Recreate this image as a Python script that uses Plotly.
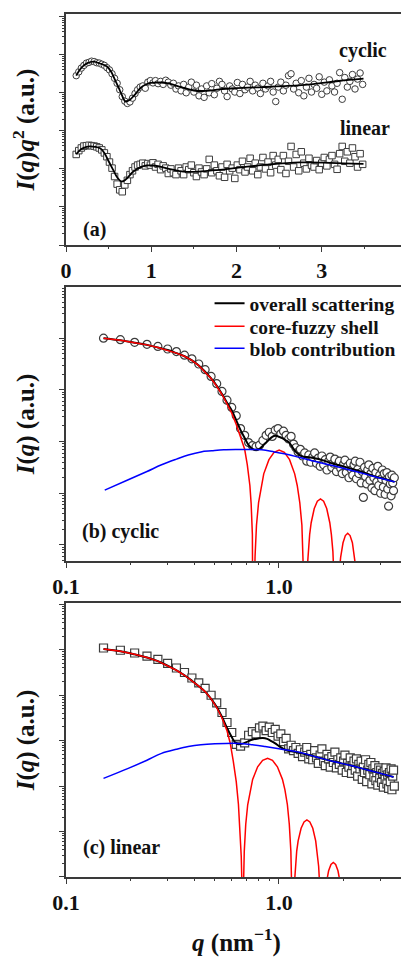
import numpy as np
import plotly.graph_objects as go

# ------------------------------------------------------------------
# DATA  (intensities stored as log10 of arbitrary units)
# ------------------------------------------------------------------
# panel (a): q grid (nm^-1) of the measured points
q_a = [0.12, 0.15, 0.18, 0.21, 0.24, 0.27, 0.30, 0.33, 0.36, 0.39,
       0.42, 0.45, 0.48, 0.51, 0.54, 0.57, 0.60, 0.63, 0.66, 0.69,
       0.72, 0.75, 0.78, 0.81, 0.84, 0.87, 0.90, 0.93, 0.96, 0.99,
       1.02, 1.05, 1.08, 1.11, 1.14, 1.17, 1.20, 1.23, 1.26, 1.29,
       1.32, 1.35, 1.38, 1.41, 1.44, 1.47, 1.50, 1.53, 1.56, 1.59,
       1.62, 1.65, 1.68, 1.71, 1.74, 1.77, 1.80, 1.83, 1.86, 1.89,
       1.92, 1.95, 1.98, 2.01, 2.04, 2.07, 2.10, 2.13, 2.16, 2.19,
       2.22, 2.25, 2.28, 2.31, 2.34, 2.37, 2.40, 2.43, 2.46, 2.49,
       2.52, 2.55, 2.58, 2.61, 2.64, 2.67, 2.70, 2.73, 2.76, 2.79,
       2.82, 2.85, 2.88, 2.91, 2.94, 2.97, 3.00, 3.03, 3.06, 3.09,
       3.12, 3.15, 3.18, 3.21, 3.24, 3.27, 3.30, 3.33, 3.36, 3.39,
       3.42, 3.45, 3.48]

# I(q)q^2, log10 (a.u.)
kratky_cyclic_log = [4.45, 4.55, 4.65, 4.72, 4.78, 4.80, 4.83, 4.82, 4.79, 4.78,
                     4.75, 4.72, 4.66, 4.60, 4.50, 4.38, 4.25, 4.08, 3.90, 3.78,
                     3.72, 3.76, 3.86, 3.98, 4.08, 4.15, 4.18, 4.12, 4.28, 4.32,
                     4.26, 4.32, 4.24, 4.30, 4.22, 4.33, 4.28, 4.20, 4.25, 4.10,
                     4.18, 4.05, 4.22, 4.00, 4.15, 4.28, 4.02, 4.20, 3.92, 4.10,
                     3.88, 4.18, 4.00, 4.24, 3.95, 4.12, 4.30, 4.22, 4.05, 3.90,
                     4.18, 4.10, 4.02, 4.27, 3.98, 4.22, 4.08, 4.15, 4.30, 4.05,
                     4.20, 4.12, 3.98, 4.25, 4.10, 4.18, 4.30, 4.02, 3.77, 4.15,
                     4.28, 4.05, 4.20, 4.45, 4.50, 4.10, 4.25, 4.00, 4.32, 3.92,
                     4.15, 4.38, 4.02, 4.22, 4.12, 4.42, 3.96, 4.28, 4.05, 4.34,
                     4.18, 4.02, 4.25, 4.53, 3.83, 4.40, 4.15, 4.30, 4.48, 4.10,
                     4.36, 4.52, 4.22]

kratky_linear_log = [2.38, 2.48, 2.55, 2.60, 2.61, 2.62, 2.61, 2.60, 2.58, 2.55,
                     2.50, 2.42, 2.32, 2.18, 2.02, 1.80, 1.60, 1.45, 1.40, 1.58,
                     1.70, 1.85, 1.95, 2.05, 2.10, 2.12, 2.15, 2.08, 2.14, 2.10,
                     2.16, 2.05, 2.12, 1.98, 2.08, 2.02, 1.88, 2.00, 1.90, 1.85,
                     2.02, 1.95, 1.85, 2.05, 1.98, 2.10, 1.90, 1.80, 2.02, 1.92,
                     1.85, 2.00, 2.25, 1.90, 2.10, 1.95, 1.82, 2.05, 1.78, 2.12,
                     1.95, 2.02, 1.75, 2.10, 1.98, 2.20, 1.92, 2.05, 2.28, 1.95,
                     2.15, 1.85, 2.05, 2.30, 2.00, 2.18, 1.90, 2.35, 2.10, 2.25,
                     1.98, 2.35, 1.88, 2.20, 2.59, 2.05, 2.38, 1.95, 2.45, 2.15,
                     2.00, 2.28, 2.10, 2.05, 2.22, 1.98, 2.15, 2.30, 2.08, 2.25,
                     2.35, 2.12, 1.99, 2.40, 2.59, 2.20, 2.45, 2.15, 2.55, 2.32,
                     2.05, 2.40, 2.12]

# fitted curves in panel (a)
q_fit_a_cyc = [0.12, 0.16, 0.20, 0.25, 0.32, 0.40, 0.48, 0.53, 0.575, 0.62,
               0.653, 0.70, 0.75, 0.80, 0.87, 0.93, 0.99, 1.10, 1.20, 1.35,
               1.50, 1.65, 1.80, 2.00, 2.30, 2.60, 2.90, 3.20, 3.49]
fit_a_cyc_log = [4.45, 4.60, 4.70, 4.78, 4.82, 4.77, 4.69, 4.55, 4.34, 4.12,
                 3.95, 3.77, 3.82, 3.93, 4.12, 4.21, 4.26, 4.27, 4.25, 4.15,
                 4.06, 4.05, 4.09, 4.12, 4.15, 4.18, 4.23, 4.31, 4.37]
q_fit_a_lin = [0.12, 0.18, 0.24, 0.28, 0.34, 0.40, 0.45, 0.50, 0.555, 0.60,
               0.653, 0.70, 0.79, 0.87, 0.946, 1.02, 1.10, 1.25, 1.376, 1.55,
               1.77, 2.05, 2.35, 2.74, 3.10, 3.49]
fit_a_lin_log = [2.39, 2.52, 2.58, 2.59, 2.58, 2.54, 2.42, 2.20, 1.97, 1.78,
                 1.67, 1.72, 1.93, 2.04, 2.09, 2.09, 2.06, 1.98, 1.93, 1.93,
                 1.97, 2.04, 2.11, 2.17, 2.16, 2.13]

# panels (b), (c): measured I(q), log10 (a.u.)
q_bc = q_a[1:]
I_cyclic_log = [4.00, 3.97, 3.92, 3.88, 3.84, 3.79, 3.74, 3.67, 3.60,
                3.50, 3.39, 3.26, 3.12, 2.97, 2.80, 2.66, 2.50, 2.25, 2.12,
                1.98, 1.92, 1.90, 1.93, 2.02, 2.12, 2.18, 2.10, 2.22, 2.25,
                2.15, 2.20, 2.12, 2.05, 2.10, 1.95, 1.88, 1.80, 1.85, 1.72,
                1.78, 1.62, 1.74, 1.60, 1.70, 1.78, 1.58, 1.68, 1.52, 1.72,
                1.55, 1.65, 1.45, 1.62, 1.70, 1.50, 1.58, 1.66, 1.42, 1.55,
                1.62, 1.48, 1.38, 1.56, 1.64, 1.40, 1.52, 1.30, 1.58, 1.45,
                1.35, 1.55, 1.62, 1.28, 1.46, 1.38, 1.60, 1.20, 1.42, 0.92,
                1.50, 1.32, 1.18, 1.45, 1.55, 1.25, 1.38, 1.10, 1.48, 1.30,
                1.05, 1.40, 1.22, 1.52, 1.15, 1.35, 1.00, 1.28, 1.45, 1.12,
                1.38, 0.98, 1.25, 1.40, 1.08, 0.75, 1.32, 1.18, 0.95, 1.35,
                1.20, 1.05, 1.30]
I_linear_log = [4.04, 3.99, 3.93, 3.86, 3.79, 3.70, 3.60, 3.50, 3.38,
                3.27, 3.15, 3.00, 2.83, 2.62, 2.40, 2.18, 1.92, 1.88, 1.95,
                2.12, 2.20, 2.15, 2.28, 2.32, 2.22, 2.30, 2.18, 2.25, 2.10,
                2.15, 1.98, 2.05, 1.82, 1.90, 1.78, 1.85, 1.72, 1.80, 1.65,
                1.75, 1.85, 1.60, 1.70, 1.58, 1.78, 1.62, 1.50, 1.68, 1.82,
                1.55, 1.45, 1.70, 1.60, 1.42, 1.65, 1.52, 1.75, 1.40, 1.58,
                1.48, 1.62, 1.35, 1.55, 1.68, 1.30, 1.50, 1.42, 1.62, 1.28,
                1.45, 1.55, 1.35, 1.60, 1.22, 1.48, 1.38, 1.55, 1.15, 1.42,
                1.30, 1.58, 1.10, 1.35, 1.48, 1.25, 1.52, 1.05, 1.38, 1.20,
                1.45, 1.12, 1.30, 1.02, 1.40, 1.18, 1.35, 1.08, 1.28, 0.98,
                1.32, 1.15, 1.40, 1.05, 1.25, 0.95, 1.30, 1.10, 1.38, 0.92,
                1.22, 1.35, 1.00]

# panel (b) model curves
q_all_b = [0.15, 0.18, 0.21, 0.24, 0.27, 0.30, 0.33, 0.36, 0.39, 0.42,
           0.45, 0.48, 0.51, 0.54, 0.57, 0.60, 0.63, 0.66, 0.69, 0.72,
           0.75, 0.78, 0.81, 0.84, 0.87, 0.90, 0.93, 0.96, 0.99, 1.02,
           1.05, 1.08, 1.11, 1.14, 1.17, 1.20, 1.23, 1.26, 1.29, 1.35,
           1.45, 1.60, 1.80, 2.00, 2.20, 2.50, 2.80, 3.10, 3.48]
all_b_log = [4.00, 3.96, 3.91, 3.87, 3.82, 3.77, 3.71, 3.65, 3.57, 3.47,
             3.35, 3.22, 3.08, 2.92, 2.75, 2.60, 2.41, 2.22, 2.07, 1.93,
             1.86, 1.84, 1.86, 1.92, 1.98, 2.04, 2.09, 2.11, 2.10, 2.08,
             2.05, 2.02, 1.99, 1.93, 1.86, 1.80, 1.76, 1.73, 1.71, 1.70,
             1.68, 1.64, 1.57, 1.52, 1.47, 1.40, 1.33, 1.28, 1.22]
q_core_b = [0.15, 0.18, 0.21, 0.24, 0.27, 0.30, 0.33, 0.36, 0.39, 0.42,
            0.45, 0.48, 0.51, 0.54, 0.57, 0.60, 0.63, 0.66, 0.69, 0.71,
            0.73, 0.74, 0.75, 0.759,
            0.763, 0.772, 0.784, 0.802, 0.825, 0.848, 0.897, 0.948, 1.002,
            1.060, 1.121, 1.185, 1.218, 1.252, 1.281, 1.302, 1.317, 1.324,
            1.329, 1.338, 1.351, 1.369, 1.393, 1.416, 1.464, 1.514, 1.566,
            1.620, 1.675, 1.732, 1.762, 1.791, 1.815, 1.834, 1.852,
            1.876, 1.900, 1.924, 1.948, 1.998, 2.049, 2.102,
            2.156, 2.211, 2.268, 2.297, 2.326, 2.356, 2.386]
core_b_log = [4.00, 3.96, 3.91, 3.87, 3.82, 3.77, 3.71, 3.65, 3.57, 3.47,
              3.35, 3.22, 3.07, 2.91, 2.73, 2.55, 2.33, 2.10, 1.85, 1.55,
              1.15, 0.80, 0.20, -4.0,
              -1.16, -0.22, 0.38, 0.82, 1.15, 1.375, 1.65, 1.79, 1.836,
              1.79, 1.65, 1.375, 1.15, 0.82, 0.38, -0.22, -1.16, -4.0,
              -2.11, -1.16, -0.565, -0.13, 0.20, 0.43, 0.705, 0.845, 0.889,
              0.845, 0.705, 0.43, 0.20, -0.13, -0.565, -1.16, -4.0,
              -1.38, -0.79, -0.46, -0.235, 0.042, 0.182, 0.226,
              0.182, 0.042, -0.235, -0.46, -0.79, -1.38, -4.0]
q_blob_b = [0.152, 0.196, 0.24, 0.281, 0.33, 0.375, 0.43, 0.483, 0.55, 0.644,
            0.73, 0.83, 0.95, 1.10, 1.255, 1.50, 1.80, 2.15, 2.60, 3.00, 3.50]
blob_b_log = [1.06, 1.26, 1.42, 1.55, 1.66, 1.74, 1.80, 1.82, 1.84, 1.845,
              1.845, 1.84, 1.80, 1.75, 1.69, 1.61, 1.53, 1.45, 1.36, 1.29, 1.22]

# panel (c) model curves
q_all_c = [0.15, 0.18, 0.21, 0.24, 0.27, 0.30, 0.33, 0.36, 0.39, 0.42,
           0.45, 0.48, 0.51, 0.54, 0.57, 0.60, 0.62, 0.644, 0.68, 0.72,
           0.76, 0.80, 0.84, 0.88, 0.92, 0.96, 1.00, 1.05, 1.10, 1.17,
           1.26, 1.50, 1.80, 2.20, 2.58, 3.00, 3.45]
all_c_log = [4.02, 3.97, 3.90, 3.83, 3.75, 3.65, 3.55, 3.44, 3.32, 3.20,
             3.08, 2.92, 2.74, 2.52, 2.28, 2.08, 1.97, 1.92, 1.94, 1.99,
             2.03, 2.05, 2.06, 2.04, 1.99, 1.94, 1.88, 1.82, 1.78, 1.76,
             1.73, 1.64, 1.54, 1.45, 1.36, 1.28, 1.20]
q_core_c = [0.15, 0.18, 0.21, 0.24, 0.27, 0.30, 0.33, 0.36, 0.39, 0.42,
            0.45, 0.48, 0.51, 0.54, 0.57,
            0.59, 0.61, 0.63, 0.645, 0.655, 0.665, 0.671, 0.676,
            0.680, 0.687, 0.698, 0.713, 0.733, 0.752, 0.794, 0.838, 0.884,
            0.932, 0.983, 1.038, 1.066, 1.095, 1.118, 1.137, 1.149, 1.155,
            1.173, 1.191, 1.211, 1.230, 1.270, 1.311, 1.352,
            1.396, 1.441, 1.487, 1.511, 1.535, 1.560, 1.585,
            1.626, 1.667, 1.710, 1.754, 1.799, 1.845, 1.892, 1.941, 1.991, 2.042]
core_c_log = [4.02, 3.97, 3.90, 3.83, 3.75, 3.65, 3.55, 3.44, 3.32, 3.20,
              3.08, 2.92, 2.73, 2.50, 2.22,
              1.95, 1.55, 1.10, 0.60, 0.10, -0.55, -1.30, -4.0,
              -1.39, -0.44, 0.156, 0.59, 0.924, 1.149, 1.426, 1.566, 1.61,
              1.566, 1.426, 1.149, 0.924, 0.59, 0.156, -0.44, -1.39, -4.0,
              -1.354, -0.764, -0.43, -0.205, 0.072, 0.212, 0.256,
              0.212, 0.072, -0.205, -0.43, -0.764, -1.354, -4.0,
              -1.70, -1.14, -0.864, -0.724, -0.68, -0.724, -0.864, -1.14, -1.70, -4.0]
q_blob_c = [0.150, 0.196, 0.24, 0.281, 0.33, 0.375, 0.43, 0.50, 0.644, 0.75,
            0.86, 1.00, 1.26, 1.50, 1.80, 2.20, 2.58, 3.00, 3.45]
blob_c_log = [1.17, 1.39, 1.57, 1.72, 1.81, 1.87, 1.91, 1.93, 1.94, 1.91,
              1.87, 1.82, 1.74, 1.64, 1.54, 1.45, 1.36, 1.28, 1.20]

x_ticks_a = [0, 1, 2, 3, 4]
legend_names = ["overall scattering", "core-fuzzy shell", "blob contribution"]
panel_labels = ["(a)", "(b) cyclic", "(c) linear"]
series_labels = ["cyclic", "linear"]


def lin(v):
    return 10 ** np.asarray(v, dtype=float)


# ------------------------------------------------------------------
# STYLE
# ------------------------------------------------------------------
FONT = "Liberation Serif"
TXT = "#111111"
AXC = "#3a3a3a"
MK = "#3c3c3c"

fig = go.Figure()

# ---- panel (a)
fig.add_trace(go.Scatter(x=q_a, y=lin(kratky_cyclic_log), mode="markers",
                         marker=dict(symbol="circle", size=6.5, color="white",
                                     line=dict(color=MK, width=1)),
                         xaxis="x", yaxis="y", showlegend=False))
fig.add_trace(go.Scatter(x=q_a, y=lin(kratky_linear_log), mode="markers",
                         marker=dict(symbol="square", size=6.5, color="white",
                                     line=dict(color=MK, width=1)),
                         xaxis="x", yaxis="y", showlegend=False))
fig.add_trace(go.Scatter(x=q_fit_a_cyc, y=lin(fit_a_cyc_log), mode="lines",
                         line=dict(color="black", width=1.8, shape="spline"),
                         xaxis="x", yaxis="y", showlegend=False))
fig.add_trace(go.Scatter(x=q_fit_a_lin, y=lin(fit_a_lin_log), mode="lines",
                         line=dict(color="black", width=1.8, shape="spline"),
                         xaxis="x", yaxis="y", showlegend=False))

# ---- panel (b)
fig.add_trace(go.Scatter(x=q_bc, y=lin(I_cyclic_log), mode="markers",
                         marker=dict(symbol="circle", size=8, color="white",
                                     line=dict(color=MK, width=1.2)),
                         xaxis="x2", yaxis="y2", showlegend=False))
fig.add_trace(go.Scatter(x=q_all_b, y=lin(all_b_log), mode="lines", name=legend_names[0],
                         line=dict(color="black", width=2, shape="spline"),
                         xaxis="x2", yaxis="y2", legend="legend"))
fig.add_trace(go.Scatter(x=q_core_b, y=lin(core_b_log), mode="lines", name=legend_names[1],
                         line=dict(color="#ff0000", width=1.5),
                         xaxis="x2", yaxis="y2", legend="legend2"))
fig.add_trace(go.Scatter(x=q_blob_b, y=lin(blob_b_log), mode="lines", name=legend_names[2],
                         line=dict(color="#0000ff", width=1.5, shape="spline"),
                         xaxis="x2", yaxis="y2", legend="legend3"))

# ---- panel (c)
fig.add_trace(go.Scatter(x=q_bc, y=lin(I_linear_log), mode="markers",
                         marker=dict(symbol="square", size=8, color="white",
                                     line=dict(color=MK, width=1.2)),
                         xaxis="x3", yaxis="y3", showlegend=False))
fig.add_trace(go.Scatter(x=q_all_c, y=lin(all_c_log), mode="lines",
                         line=dict(color="black", width=2, shape="spline"),
                         xaxis="x3", yaxis="y3", showlegend=False))
fig.add_trace(go.Scatter(x=q_core_c, y=lin(core_c_log), mode="lines",
                         line=dict(color="#ff0000", width=1.5),
                         xaxis="x3", yaxis="y3", showlegend=False))
fig.add_trace(go.Scatter(x=q_blob_c, y=lin(blob_c_log), mode="lines",
                         line=dict(color="#0000ff", width=1.5, shape="spline"),
                         xaxis="x3", yaxis="y3", showlegend=False))

tickfont = dict(family=FONT, size=22, color=TXT, weight="bold")
titlefont = dict(family=FONT, size=25, color=TXT, weight="bold")
base = dict(showline=True, mirror=True, linecolor=AXC, linewidth=1.5,
            ticks="outside", ticklen=5, tickwidth=1.3, tickcolor=AXC,
            showgrid=False, zeroline=False, tickfont=tickfont, automargin=False)
minor = dict(ticks="outside", ticklen=2.5, tickwidth=1, tickcolor=AXC, showgrid=False)

ylog = dict(base, type="log", dtick=1, showticklabels=False, minor=minor)
xlog = dict(base, type="log", range=[-1, 0.601], dtick=1, tickformat=".1f", minor=minor)

leg_font = dict(family=FONT, size=19.5, color=TXT, weight="bold")
leg_common = dict(xanchor="left", yanchor="top", bgcolor="rgba(0,0,0,0)",
                  borderwidth=0, font=leg_font, itemwidth=30, x=0.421)

# The page body adds an 8 px offset, so the figure is 8 px smaller than the
# 409x958 window and the plot area keeps the reference pixel positions.
fig.update_layout(
    width=401, height=950,
    margin=dict(l=58, r=2, t=6, b=81),
    paper_bgcolor="white", plot_bgcolor="white",
    font=dict(family=FONT, color=TXT),
    xaxis=dict(base, range=[0, 4], tickvals=x_ticks_a, anchor="y",
               minor=dict(minor, dtick=0.5)),
    yaxis=dict(ylog, range=[0, 6.07], domain=[0.7323, 1.0], anchor="x",
               title=dict(text="<i>I</i>(<i>q</i>)<i>q</i><sup>2</sup> (a.u.)",
                          font=titlefont, standoff=17)),
    xaxis2=dict(xlog, anchor="y2"),
    yaxis2=dict(ylog, range=[-0.31, 4.99], domain=[0.3662, 0.6837], anchor="x2",
                title=dict(text="<i>I</i>(<i>q</i>) (a.u.)", font=titlefont, standoff=17)),
    xaxis3=dict(xlog, anchor="y3",
                title=dict(text="<i>q</i> (nm<sup>−1</sup>)", font=titlefont, standoff=19)),
    yaxis3=dict(ylog, range=[-1.0, 5.03], domain=[0.0, 0.3175], anchor="x3",
                title=dict(text="<i>I</i>(<i>q</i>) (a.u.)", font=titlefont, standoff=17)),
    showlegend=True,
    legend=dict(leg_common, y=0.6871),
    legend2=dict(leg_common, y=0.6605),
    legend3=dict(leg_common, y=0.6350),
)

ann_font = dict(family=FONT, size=20, color=TXT, weight="bold")
annots = [
    (series_labels[0], "x domain", "y domain", 0.871, 0.844),
    (series_labels[1], "x domain", "y domain", 0.877, 0.506),
    (panel_labels[0], "x domain", "y domain", 0.083, 0.069),
    (panel_labels[1], "x2 domain", "y2 domain", 0.161, 0.109),
    (panel_labels[2], "x3 domain", "y3 domain", 0.164, 0.106),
]
for text, xr, yr, xx, yy in annots:
    fig.add_annotation(text=text, xref=xr, yref=yr, x=xx, y=yy,
                       xanchor="center", yanchor="middle", showarrow=False, font=ann_font)

fig.write_html("out.html")
